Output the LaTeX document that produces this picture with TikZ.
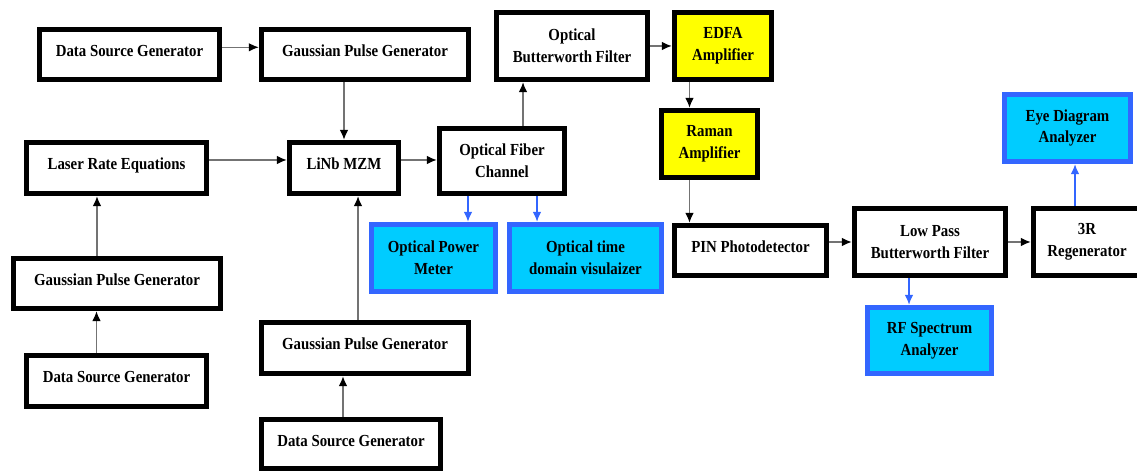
\documentclass[tikz,border=0pt]{standalone}
\usepackage{fontspec}
\setmainfont[FakeStretch=0.88]{Liberation Serif}
\usetikzlibrary{arrows.meta}

\definecolor{probecyan}{RGB}{0,204,255}
\definecolor{probeblue}{RGB}{51,102,255}
\definecolor{ampyellow}{RGB}{255,255,0}

\tikzset{
  blk/.style={draw=black, line width=3.9pt, fill=white, align=center, inner sep=0pt,
    font=\bfseries\fontsize{12}{15.5}\selectfont},
  oneline/.style={text height=0.3cm, text depth=0.2cm},
  amp/.style={blk, fill=ampyellow},
  meter/.style={blk, draw=probeblue, fill=probecyan},
  link/.style={draw=black!55, line width=0.8pt, -{Latex[black,length=7pt,width=6pt]}},
  tap/.style={draw=probeblue, line width=0.8pt, -{Latex[probeblue,length=7pt,width=6pt]}},
}

\begin{document}
\begin{tikzpicture}[x=0.025cm, y=-0.025cm]
  \useasboundingbox (0,0) rectangle (1137,471);

  % transmitter side
  \node[blk, oneline, minimum width=4.5cm, minimum height=1.25cm] (dsA) at (129.5,54.5) {Data Source Generator};
  \node[blk, oneline, minimum width=5.175cm, minimum height=1.25cm] (gpA) at (365,54.5) {Gaussian Pulse Generator};
  \node[blk, oneline, minimum width=4.5cm, minimum height=1.275cm] (laser) at (116.5,168) {Laser Rate Equations};
  \node[blk, oneline, minimum width=2.725cm, minimum height=1.275cm] (mzm) at (344,168) {LiNb MZM};
  \node[blk, oneline, minimum width=5.175cm, minimum height=1.25cm] (gpB) at (117,283.5) {Gaussian Pulse Generator};
  \node[blk, oneline, minimum width=4.5cm, minimum height=1.275cm] (dsB) at (116.5,381) {Data Source Generator};
  \node[blk, oneline, minimum width=5.175cm, minimum height=1.275cm] (gpC) at (365,348) {Gaussian Pulse Generator};
  \node[blk, oneline, minimum width=4.475cm, minimum height=1.225cm] (dsC) at (351,444) {Data Source Generator};

  % channel and amplifiers
  \node[blk, minimum width=3.125cm, minimum height=1.625cm] (fiber) at (502,161) {Optical Fiber\\Channel};
  \node[blk, minimum width=3.775cm, minimum height=1.675cm] (obf) at (572,46) {Optical\\Butterworth Filter};
  \node[amp, minimum width=2.425cm, minimum height=1.675cm] (edfa) at (723,46) {EDFA\\Amplifier};
  \node[amp, minimum width=2.4cm, minimum height=1.675cm] (raman) at (709.5,144) {Raman\\Amplifier};
  \node[meter, minimum width=3.1cm, minimum height=1.675cm] (opm) at (433.5,258) {Optical Power\\Meter};
  \node[meter, minimum width=3.8cm, minimum height=1.675cm] (otdv) at (585.5,258) {Optical time\\domain visulaizer};

  % receiver side
  \node[blk, oneline, minimum width=3.8cm, minimum height=1.25cm] (pin) at (750.5,250.5) {PIN Photodetector};
  \node[blk, minimum width=3.775cm, minimum height=1.675cm] (lpf) at (930,242) {Low Pass\\Butterworth Filter};
  \node[blk, minimum width=2.675cm, minimum height=1.675cm] (regen) at (1087,242) {3R\\Regenerator};
  \node[meter, minimum width=3.15cm, minimum height=1.675cm] (eye) at (1067.5,128) {Eye Diagram\\Analyzer};
  \node[meter, minimum width=3.1cm, minimum height=1.65cm] (rf) at (929.5,340.5) {RF Spectrum\\Analyzer};

  \draw[link] ([yshift=0.18cm]dsA.east) -- ([yshift=0.18cm]dsA.east -| gpA.west);
  \draw[link] (mzm.north |- gpA.south) -- (mzm.north);
  \draw[link] ([yshift=0.2cm]laser.east) -- ([yshift=0.2cm]laser.east -| mzm.west);
  \draw[link] ([yshift=0.2cm]mzm.east) -- ([yshift=0.2cm]mzm.east -| fiber.west);
  \draw[link] ([xshift=-0.5cm]gpB.north) -- ([xshift=-0.5cm]gpB.north |- laser.south);
  \draw[link] ([xshift=-0.5cm]dsB.north) -- ([xshift=-0.5cm]dsB.north |- gpB.south);
  \draw[link] ([xshift=0.35cm]mzm.south |- gpC.north) -- ([xshift=0.35cm]mzm.south);
  \draw[link] ([xshift=-0.2cm]dsC.north) -- ([xshift=-0.2cm]dsC.north |- gpC.south);
  \draw[link] ([xshift=0.525cm]fiber.north) -- ([xshift=0.525cm]fiber.north |- obf.south);
  \draw[link] (obf.east) -- (edfa.west);
  \draw[link] ([xshift=-0.5cm]raman.north |- edfa.south) -- ([xshift=-0.5cm]raman.north);
  \draw[link] ([xshift=-0.5cm]raman.south) -- ([xshift=-0.5cm]raman.south |- pin.north);
  \draw[link] (pin.east |- lpf.west) -- (lpf.west);
  \draw[link] (lpf.east) -- (regen.west);

  \draw[tap] ([xshift=-0.85cm]fiber.south) -- ([xshift=-0.85cm]fiber.south |- opm.north);
  \draw[tap] ([xshift=0.875cm]fiber.south) -- ([xshift=0.875cm]fiber.south |- otdv.north);
  \draw[tap] ([xshift=-0.525cm]lpf.south) -- ([xshift=-0.525cm]lpf.south |- rf.north);
  \draw[tap] ([xshift=-0.3cm]regen.north) -- ([xshift=-0.3cm]regen.north |- eye.south);
\end{tikzpicture}
\end{document}
